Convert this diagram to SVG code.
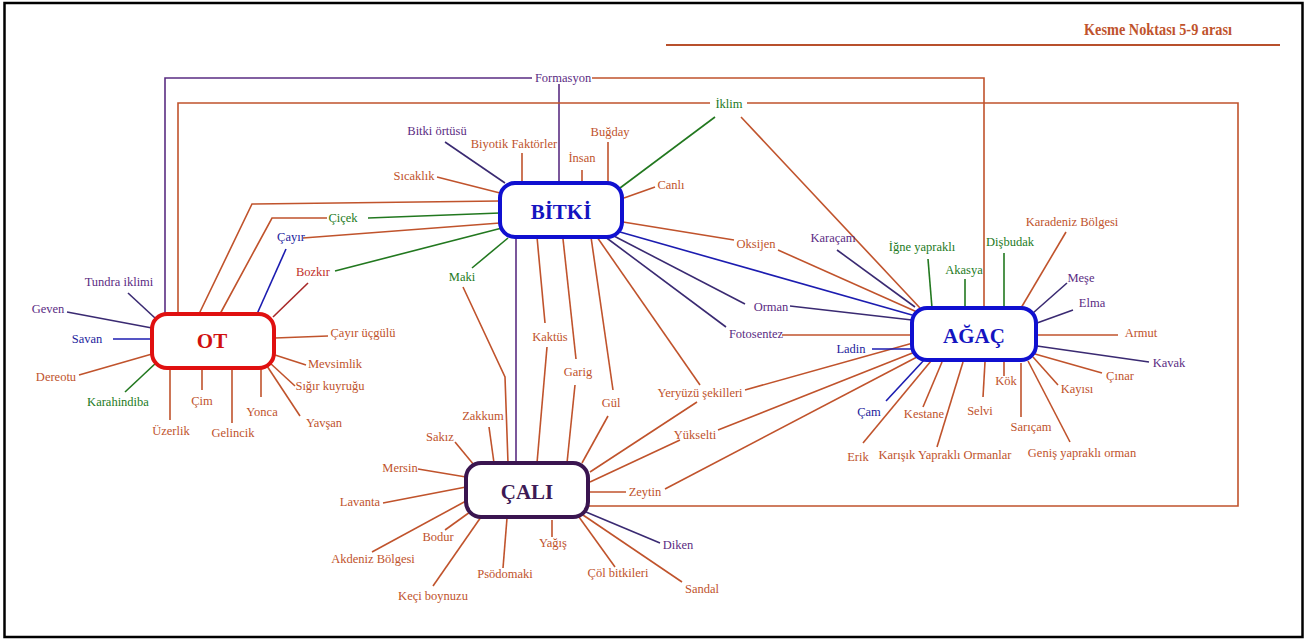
<svg xmlns="http://www.w3.org/2000/svg" width="1308" height="642" viewBox="0 0 1308 642">
<style>
text{font-family:"Liberation Serif","Times New Roman",serif;font-size:12.5px;text-anchor:middle}
.o{fill:#c0532c}.p{fill:#5b2c83}.g{fill:#237a23}.b{fill:#1c1c9c}.r{fill:#c0302a}
.node text{font-size:21px;font-weight:bold}
.c polyline{fill:none;stroke-width:1.6}
.lo{stroke:#c0532c}.lp{stroke:#5a2d82}.ln{stroke:#3a2a72}.lb{stroke:#1c1cb0}.lg{stroke:#22781f}.lr{stroke:#a82828}
</style>
<rect x="4.5" y="3" width="1298" height="634" fill="#fff" stroke="#000" stroke-width="2.5"/>
<g id="title">
<text x="1158" y="35" style="font-size:17px;font-weight:bold" class="o" textLength="148" lengthAdjust="spacingAndGlyphs">Kesme Noktası 5-9 arası</text>
<line x1="666" y1="45" x2="1280" y2="45" stroke="#b8502c" stroke-width="2"/>
</g>
<g id="connectors" class="c">
<polyline class="lp" points="165,314 165,78 532,78"/>
<polyline class="lp" points="559,84 559,183"/>
<polyline class="lo" points="592,78 984,78 984,308"/>
<polyline class="lo" points="178,314 178,103 710,103"/>
<polyline class="lo" points="747,103 1238,103 1238,506 588,506"/>
<polyline class="lg" points="715,117 620,188"/>
<polyline class="lo" points="741,117 920,308"/>
<polyline class="ln" points="445,142 505,183"/>
<polyline class="lo" points="522,153 522,183"/>
<polyline class="lo" points="582,170 582,183"/>
<polyline class="lo" points="608,142 608,183"/>
<polyline class="lo" points="655,187 624,198"/>
<polyline class="lo" points="437,177 500,193"/>
<polyline class="lo" points="623,222 734,240"/>
<polyline class="lo" points="778,250 917,312"/>
<polyline class="lb" points="620,232 912,315"/>
<polyline class="lo" points="500,201 252,204 199,314"/>
<polyline class="lo" points="327,218 272,218 220,314"/>
<polyline class="lg" points="368,218 500,213"/>
<polyline class="lo" points="303,238 500,223"/>
<polyline class="lb" points="286,249 257,314"/>
<polyline class="lg" points="335,271 502,228"/>
<polyline class="lr" points="308,283 273,317"/>
<polyline class="lg" points="472,268 508,238"/>
<polyline class="lo" points="463,287 505,377 508,463"/>
<polyline class="lp" points="516,237 516,463"/>
<polyline class="lo" points="537,237 545,323"/>
<polyline class="lo" points="547,347 537,463"/>
<polyline class="lo" points="563,239 576,359"/>
<polyline class="lo" points="575,385 567,463"/>
<polyline class="lo" points="591,237 613,390"/>
<polyline class="lo" points="608,416 582,463"/>
<polyline class="lo" points="597,237 700,385"/>
<polyline class="lo" points="697,402 590,472"/>
<polyline class="lo" points="745,390 913,343"/>
<polyline class="ln" points="612,235 745,304"/>
<polyline class="ln" points="790,306 912,320"/>
<polyline class="ln" points="604,236 726,327"/>
<polyline class="lo" points="782,335 912,335"/>
<polyline class="lo" points="680,440 590,482"/>
<polyline class="lo" points="718,430 915,352"/>
<polyline class="lo" points="588,492 626,492"/>
<polyline class="lo" points="665,489 917,357"/>
<polyline class="ln" points="837,250 915,307"/>
<polyline class="lg" points="928,259 932,308"/>
<polyline class="lg" points="965,279 965,308"/>
<polyline class="lg" points="1004,253 1004,308"/>
<polyline class="lo" points="1066,232 1021,308"/>
<polyline class="ln" points="1067,283 1033,313"/>
<polyline class="ln" points="1073,310 1037,323"/>
<polyline class="lo" points="1037,335 1118,335"/>
<polyline class="ln" points="1037,346 1149,362"/>
<polyline class="lo" points="1035,354 1102,373"/>
<polyline class="lo" points="1033,357 1058,385"/>
<polyline class="lo" points="1028,361 1070,442"/>
<polyline class="lo" points="1021,363 1021,417"/>
<polyline class="lo" points="1004,360 1004,376"/>
<polyline class="lo" points="985,362 983,397"/>
<polyline class="lo" points="963,362 937,447"/>
<polyline class="lo" points="942,362 923,407"/>
<polyline class="lo" points="931,361 863,443"/>
<polyline class="lb" points="925,359 886,401"/>
<polyline class="lb" points="872,349 912,349"/>
<polyline class="ln" points="128,293 155,318"/>
<polyline class="ln" points="67,312 152,328"/>
<polyline class="lb" points="113,339 152,339"/>
<polyline class="lo" points="79,375 152,354"/>
<polyline class="lg" points="125,392 157,362"/>
<polyline class="lo" points="170,368 170,420"/>
<polyline class="lo" points="202,368 202,390"/>
<polyline class="lo" points="232,368 232,423"/>
<polyline class="lo" points="261,367 261,397"/>
<polyline class="lo" points="267,366 300,416"/>
<polyline class="lo" points="270,363 295,386"/>
<polyline class="lo" points="275,355 306,365"/>
<polyline class="lo" points="275,338 328,336"/>
<polyline class="lo" points="489,427 494,463"/>
<polyline class="lo" points="455,442 474,465"/>
<polyline class="lo" points="418,469 466,477"/>
<polyline class="lo" points="383,503 466,487"/>
<polyline class="lo" points="372,552 466,501"/>
<polyline class="lo" points="445,530 470,512"/>
<polyline class="lo" points="433,586 481,517"/>
<polyline class="lo" points="503,568 507,518"/>
<polyline class="lo" points="552,520 552,537"/>
<polyline class="lo" points="615,567 579,517"/>
<polyline class="lo" points="682,582 583,515"/>
<polyline class="ln" points="660,543 586,512"/>
</g>
<g id="node-bitki" class="node">
<rect x="500" y="183" width="122" height="54" rx="15" fill="#fff" stroke="#1010d0" stroke-width="4"/>
<text x="561" y="219" style="fill:#1414c0">BİTKİ</text>
</g>
<g id="node-ot" class="node">
<rect x="152" y="314" width="122" height="54" rx="15" fill="#fff" stroke="#e01010" stroke-width="4"/>
<text x="212" y="348" style="fill:#d01010">OT</text>
</g>
<g id="node-agac" class="node">
<rect x="912" y="308" width="124" height="52" rx="15" fill="#fff" stroke="#1010d0" stroke-width="4"/>
<text x="974" y="343" style="fill:#1414c0">AĞAÇ</text>
</g>
<g id="node-cali" class="node">
<rect x="466" y="463" width="122" height="54" rx="15" fill="#fff" stroke="#3a1550" stroke-width="4"/>
<text x="527" y="499" style="fill:#3d1a55">ÇALI</text>
</g>
<g id="labels">
<text x="563" y="82" class="p">Formasyon</text>
<text x="729" y="108" class="g">İklim</text>
<text x="437" y="135" class="p">Bitki örtüsü</text>
<text x="514" y="148" class="o">Biyotik Faktörler</text>
<text x="582" y="162" class="o">İnsan</text>
<text x="610" y="136" class="o">Buğday</text>
<text x="671" y="189" class="o">Canlı</text>
<text x="414" y="180" class="o">Sıcaklık</text>
<text x="343" y="222" class="g">Çiçek</text>
<text x="291" y="241" class="b">Çayır</text>
<text x="313" y="276" class="r">Bozkır</text>
<text x="462" y="281" class="g">Maki</text>
<text x="756" y="248" class="o">Oksijen</text>
<text x="771" y="311" class="p">Orman</text>
<text x="756" y="338" class="p">Fotosentez</text>
<text x="550" y="341" class="o">Kaktüs</text>
<text x="578" y="376" class="o">Garig</text>
<text x="611" y="407" class="o">Gül</text>
<text x="700" y="397" class="o">Yeryüzü şekilleri</text>
<text x="695" y="439" class="o">Yükselti</text>
<text x="645" y="496" class="o">Zeytin</text>
<text x="833" y="242" class="p">Karaçam</text>
<text x="922" y="251" class="g">İğne yapraklı</text>
<text x="964" y="274" class="g">Akasya</text>
<text x="1010" y="246" class="g">Dişbudak</text>
<text x="1072" y="226" class="o">Karadeniz Bölgesi</text>
<text x="1081" y="282" class="p">Meşe</text>
<text x="1092" y="307" class="p">Elma</text>
<text x="1141" y="337" class="o">Armut</text>
<text x="1169" y="367" class="p">Kavak</text>
<text x="1120" y="380" class="o">Çınar</text>
<text x="1077" y="393" class="o">Kayısı</text>
<text x="1082" y="457" class="o">Geniş yapraklı orman</text>
<text x="1031" y="431" class="o">Sarıçam</text>
<text x="1006" y="385" class="o">Kök</text>
<text x="980" y="415" class="o">Selvi</text>
<text x="945" y="459" class="o">Karışık Yapraklı Ormanlar</text>
<text x="924" y="418" class="o">Kestane</text>
<text x="858" y="461" class="o">Erik</text>
<text x="869" y="416" class="b">Çam</text>
<text x="851" y="353" class="b">Ladin</text>
<text x="119" y="286" class="p">Tundra iklimi</text>
<text x="48" y="313" class="p">Geven</text>
<text x="87" y="343" class="b">Savan</text>
<text x="56" y="381" class="o">Dereotu</text>
<text x="118" y="406" class="g">Karahindiba</text>
<text x="171" y="435" class="o">Üzerlik</text>
<text x="202" y="405" class="o">Çim</text>
<text x="233" y="437" class="o">Gelincik</text>
<text x="262" y="416" class="o">Yonca</text>
<text x="324" y="427" class="o">Yavşan</text>
<text x="330" y="390" class="o">Sığır kuyruğu</text>
<text x="335" y="368" class="o">Mevsimlik</text>
<text x="363" y="337" class="o">Çayır üçgülü</text>
<text x="483" y="420" class="o">Zakkum</text>
<text x="440" y="441" class="o">Sakız</text>
<text x="400" y="472" class="o">Mersin</text>
<text x="360" y="506" class="o">Lavanta</text>
<text x="373" y="563" class="o">Akdeniz Bölgesi</text>
<text x="438" y="541" class="o">Bodur</text>
<text x="433" y="600" class="o">Keçi boynuzu</text>
<text x="505" y="578" class="o">Psödomaki</text>
<text x="553" y="547" class="o">Yağış</text>
<text x="618" y="577" class="o">Çöl bitkileri</text>
<text x="702" y="593" class="o">Sandal</text>
<text x="678" y="549" class="p">Diken</text>
</g>
</svg>
